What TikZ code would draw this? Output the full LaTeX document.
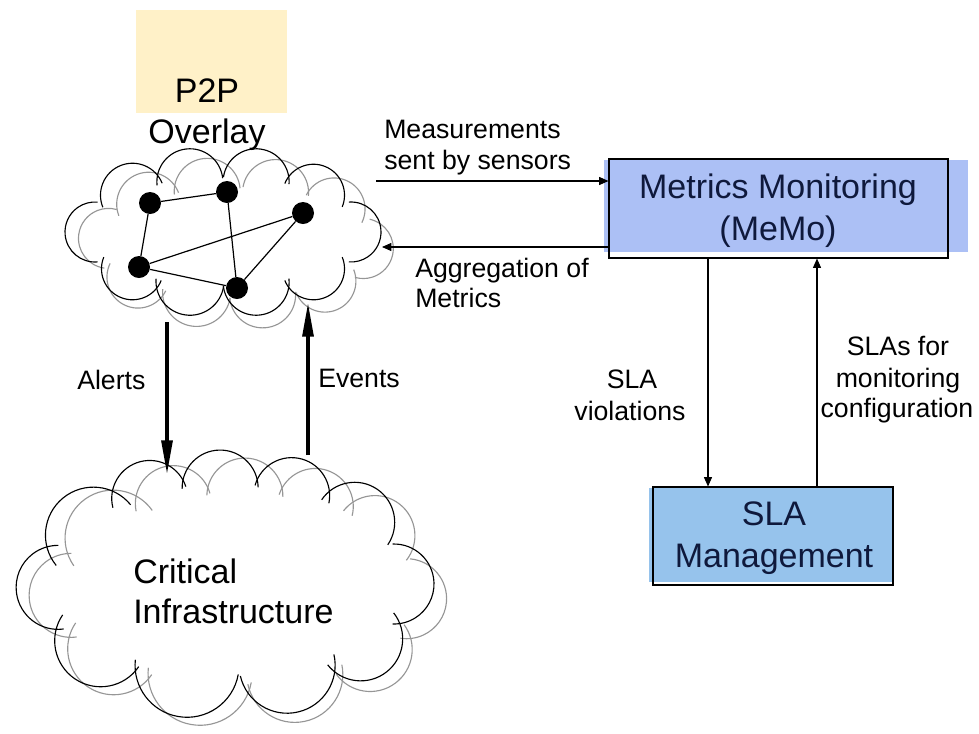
\documentclass[tikz,border=0pt]{standalone}
\usepackage{fontspec}
\setmainfont{Liberation Sans}
\usetikzlibrary{arrows.meta}

\definecolor{memofill}{RGB}{172,192,245}
\definecolor{slafill}{RGB}{150,195,236}
\definecolor{p2pfill}{RGB}{255,241,200}
\definecolor{boxtext}{RGB}{15,25,60}
\definecolor{echogrey}{RGB}{150,150,150}

\tikzset{
  bigtext/.style={font=\fontsize{25.5}{31}\selectfont, inner sep=0pt, anchor=base},
  smalltext/.style={font=\fontsize{20}{23}\selectfont, inner sep=0pt, anchor=base},
  cloudblack/.style={line width=0.85pt, draw=black},
  cloudgray/.style={line width=0.85pt, draw=echogrey},
  peer/.style={circle, fill=black, minimum size=16.5pt, inner sep=0pt},
  link/.style={line width=0.9pt},
  thinarrow/.style={line width=0.8pt, -{Triangle[length=7pt,width=6pt]}},
  thickarrow/.style={line width=3pt, -{Triangle[length=26pt,width=8pt]}},
  box/.style={draw, line width=0.8pt, inner sep=0pt},
}

% A cloud outline: puffs whose centres sit on an ellipse.
% #1 style, #2/#3 centre, #4/#5 semi-axes,
% #6 list of angle/radius/half-span/inward shift of the puff centre
\newcommand\puffring[6]{%
  \foreach \pang/\prad/\phalf/\pin in {#6}{%
    \pgfmathsetmacro\pnorm{atan2(#4*sin(\pang),#5*cos(\pang))}%
    \pgfmathsetmacro\pcx{#2+#4*cos(\pang)-\pin*cos(\pnorm)}%
    \pgfmathsetmacro\pcy{#3+#5*sin(\pang)-\pin*sin(\pnorm)}%
    \draw[#1] (\pcx,\pcy) ++(\pnorm-\phalf:\prad)
      arc[start angle=\pnorm-\phalf, delta angle=2*\phalf, radius=\prad];
  }}

\begin{document}
\begin{tikzpicture}[x=0.75pt,y=-0.75pt]
\useasboundingbox (0,0) rectangle (979,733);

% P2P overlay label with its shaded backdrop
\fill[p2pfill] (136,10) rectangle (287,113);
\node[bigtext] (p2plabel) at (207,102) {P2P};
\node[bigtext] (overlaylabel) at (207,143) {Overlay};

% P2P overlay cloud: grey echo, then black outline
\puffring{cloudgray}{236}{243}{128}{53}{6/30/92/0, -40/31/90/0, -72/33/88/0, -103/33/90/0, -133/32/90/0, -175/30/94/0, 140/31/90/0, 108/34/88/1, 78/33/90/0, 46/31/90/0}
\puffring{cloudblack}{223}{232}{128}{52}{0/30/94/0, -45/31/90/0, -75/33/88/0, -105/33/90/0, -135/32/90/0, 180/30/95/0, 135/31/90/0, 105/34/88/1, 75/33/90/0, 45/31/90/0}

% peers and their links
\node[peer] (n1) at (150,203) {};
\node[peer] (n2) at (227,192) {};
\node[peer] (n3) at (303,213) {};
\node[peer] (n4) at (139,267) {};
\node[peer] (n5) at (237,288) {};
\draw[link] (n1) -- (n2);
\draw[link] (n1) -- (n4);
\draw[link] (n2) -- (n5);
\draw[link] (n4) -- (n3);
\draw[link] (n4) -- (n5);
\draw[link] (n5) -- (n3);

% critical infrastructure cloud: smaller puffs on top, larger ones below
\puffring{cloudgray}{239}{592}{168}{96}{4/40/92/0, -36/40/90/0, -63/38/88/0, -88/38/90/0, -113/38/88/0, -141/48/90/8, 178/42/94/0, 140/46/90/6, 104/52/88/12, 70/48/90/8, 38/42/90/2}
\puffring{cloudblack}{226}{584}{168}{96}{0/40/92/0, -40/40/90/0, -67/38/88/0, -92/38/90/0, -117/38/88/0, -145/48/90/8, 178/42/94/0, 140/46/90/6, 104/52/88/12, 68/48/90/8, 36/42/90/2}
\node[bigtext, anchor=base west] (critlabel1) at (133,583) {Critical};
\node[bigtext, anchor=base west] (critlabel2) at (133,623) {Infrastructure};

% alerts and events between the two clouds
\coordinate (alertsfrom) at (167,322);
\coordinate (alertsto) at (167,475);
\coordinate (eventsfrom) at (308,455);
\coordinate (eventsto) at (308,302);
\draw[thickarrow] (alertsfrom) -- (alertsto);
\draw[thickarrow] (eventsfrom) -- (eventsto);
\node[smalltext, anchor=base west] (alertslabel) at (77,389) {Alerts};
\node[smalltext, anchor=base west] (eventslabel) at (318,387) {Events};

% Metrics Monitoring box
\fill[memofill] (604,160) rectangle (968,252);
\node[box, minimum width=254.25pt, minimum height=74.25pt] (memo) at (778.5,208.5) {};
\node[bigtext, text=boxtext] (memo1) at (778,198) {Metrics Monitoring};
\node[bigtext, text=boxtext] (memo2) at (778,240) {(MeMo)};

% SLA Management box
\fill[slafill] (649,488) rectangle (892,582);
\node[box, minimum width=180pt, minimum height=73.5pt] (sla) at (773,536) {};
\node[bigtext, text=boxtext] (sla1) at (774,525) {SLA};
\node[bigtext, text=boxtext] (sla2) at (774,567) {Management};

% overlay <-> monitoring
\coordinate (measfrom) at (376,181);
\coordinate (aggto) at (382,247);
\draw[thinarrow] (measfrom) -- (memo.west |- measfrom);
\draw[thinarrow] (memo.west |- aggto) -- (aggto);
\node[smalltext, anchor=base west] (meas1) at (384,138) {Measurements};
\node[smalltext, anchor=base west] (meas2) at (384,169) {sent by sensors};
\node[smalltext, anchor=base west] (agg1) at (415,277) {Aggregation of};
\node[smalltext, anchor=base west] (agg2) at (415,307) {Metrics};

% monitoring <-> SLA management
\coordinate (viol) at (708,0);
\coordinate (conf) at (817,0);
\draw[thinarrow] (memo.south -| viol) -- (sla.north -| viol);
\draw[thinarrow] (sla.north -| conf) -- (memo.south -| conf);
\node[smalltext] (viol1) at (632,388) {SLA};
\node[smalltext] (viol2) at (630,420) {violations};
\node[smalltext] (conf1) at (898,355) {SLAs for};
\node[smalltext] (conf2) at (898,387) {monitoring};
\node[smalltext] (conf3) at (897,417) {configuration};
\end{tikzpicture}
\end{document}
